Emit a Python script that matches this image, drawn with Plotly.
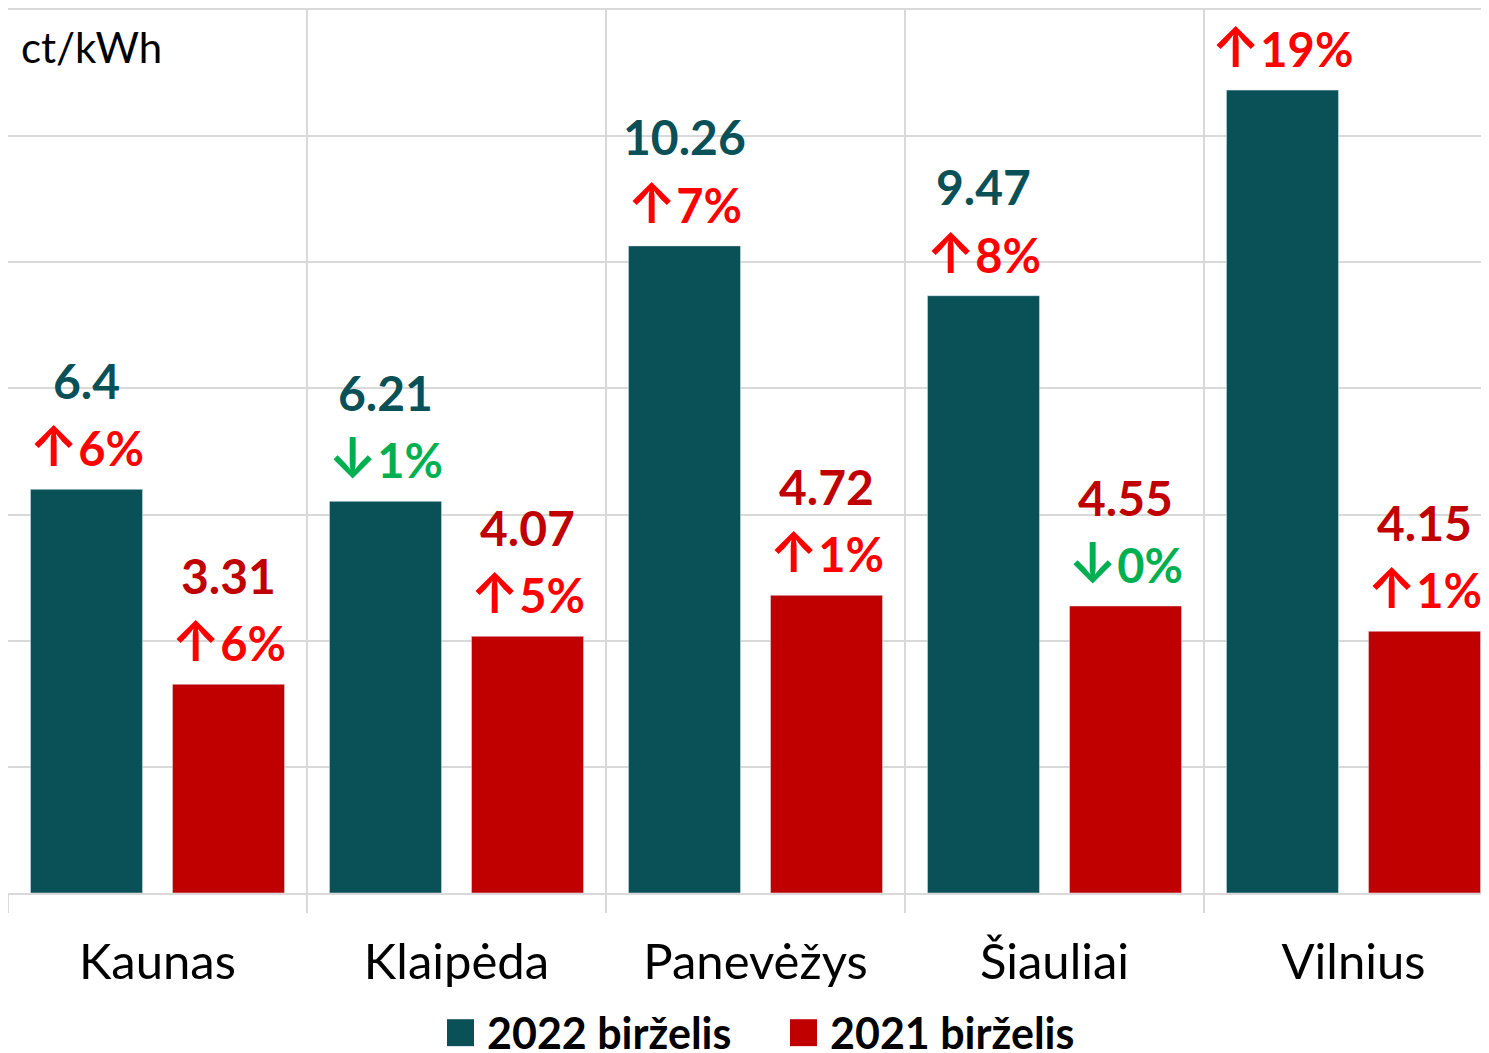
import plotly.graph_objects as go

categories = ["Kaunas", "Klaipėda", "Panevėžys", "Šiauliai", "Vilnius"]
series_names = ["2022 birželis", "2021 birželis"]
v2022 = [6.4, 6.21, 10.26, 9.47, 12.73]
v2021 = [3.31, 4.07, 4.72, 4.55, 4.15]
chg2022 = ["↑6%", "↓1%", "↑7%", "↑8%", "↑19%"]
chg2021 = ["↑6%", "↑5%", "↑1%", "↓0%", "↑1%"]
unit_label = "ct/kWh"

TEAL = "#095057"
RED = "#C00000"
UP = "#FF0000"
DOWN = "#00B050"
GRID = "#D9D9D9"
FONT = "Lato"
ARROW_FONT = "Inter"

# page body margin is 8px, so the figure sits at (8, 8)
OFF = 8
W, H = 1489 - OFF, 1053 - OFF
ML, MR, MT, MB = 0, 0, 0, 160
YMAX = 14
BARGAP = 0.05
GROUPGAP = 0.211
CAT_PX = 299

fig = go.Figure()
fig.add_bar(x=categories, y=v2022, name=series_names[0], marker_color=TEAL, showlegend=False)
fig.add_bar(x=categories, y=v2021, name=series_names[1], marker_color=RED, showlegend=False)

plot_w = W - ML - MR
plot_h = H - MT - MB
px_per_unit = plot_h / YMAX
offset = (1 - BARGAP) / 4  # center offset of each bar in category units


def fmt_change(c):
    arrow, rest = c[0], c[1:]
    col = UP if arrow == "↑" else DOWN
    return (f'<span style="font-family:{ARROW_FONT};font-weight:600;font-size:56px">{arrow}</span>'
            f"<b>{rest}</b>"), col


def add_labels(vals, chgs, sign, vcolor):
    for i, (v, c) in enumerate(zip(vals, chgs)):
        xc = i + sign * offset
        txt, ccol = fmt_change(c)
        fig.add_annotation(x=xc, y=v, text=txt, showarrow=False,
                           yanchor="middle", yshift=43,
                           font=dict(family=FONT, size=47, color=ccol))
        if v + 107 / px_per_unit + 0.3 <= YMAX:
            fig.add_annotation(x=xc, y=v, text=f"<b>{v:g}</b>", showarrow=False,
                               yanchor="middle", yshift=109,
                               font=dict(family=FONT, size=48, color=vcolor))


add_labels(v2022, chg2022, -1, TEAL)
add_labels(v2021, chg2021, 1, RED)

# unit label
fig.add_annotation(xref="paper", yref="paper", x=(19 - OFF - ML) / plot_w,
                   y=(H - MB - (45 - OFF)) / plot_h,
                   xanchor="left", yanchor="middle", text=unit_label, showarrow=False,
                   font=dict(family=FONT, size=42, color="black"))

# manual legend
leg_y = (H - MB - (1033 - OFF)) / plot_h
items = [(447, TEAL, series_names[0]), (790, RED, series_names[1])]
for x0, col, name in items:
    fx = x0 - OFF - ML
    fig.add_shape(type="rect", xref="paper", yref="paper",
                  x0=fx / plot_w, x1=(fx + 27) / plot_w,
                  y0=leg_y - 13.5 / plot_h, y1=leg_y + 13.5 / plot_h,
                  fillcolor=col, line_width=0)
    fig.add_annotation(xref="paper", yref="paper", x=(fx + 38) / plot_w, y=leg_y,
                       xanchor="left", yanchor="middle", text=f"<b>{name}</b>", showarrow=False,
                       font=dict(family=FONT, size=43, color="black"))

fig.update_layout(
    width=W, height=H,
    margin=dict(l=ML, r=MR, t=MT, b=MB, pad=0),
    paper_bgcolor="white", plot_bgcolor="white",
    barmode="group", bargap=BARGAP, bargroupgap=GROUPGAP,
    font=dict(family=FONT),
)
fig.update_xaxes(
    range=[-0.5, -0.5 + plot_w / CAT_PX],
    tickson="boundaries", ticks="outside", ticklen=18, tickcolor=GRID, tickwidth=1.5,
    showgrid=True, gridcolor=GRID, gridwidth=1.5,
    showline=True, linecolor=GRID, linewidth=1.5, mirror=True,
    tickfont=dict(family=FONT, size=49, color="black"),
    ticklabelstandoff=25,
)
fig.update_yaxes(
    range=[0, YMAX], dtick=2, showticklabels=False,
    showgrid=True, gridcolor=GRID, gridwidth=1.5, zeroline=False,
)

fig.write_html("out.html")
